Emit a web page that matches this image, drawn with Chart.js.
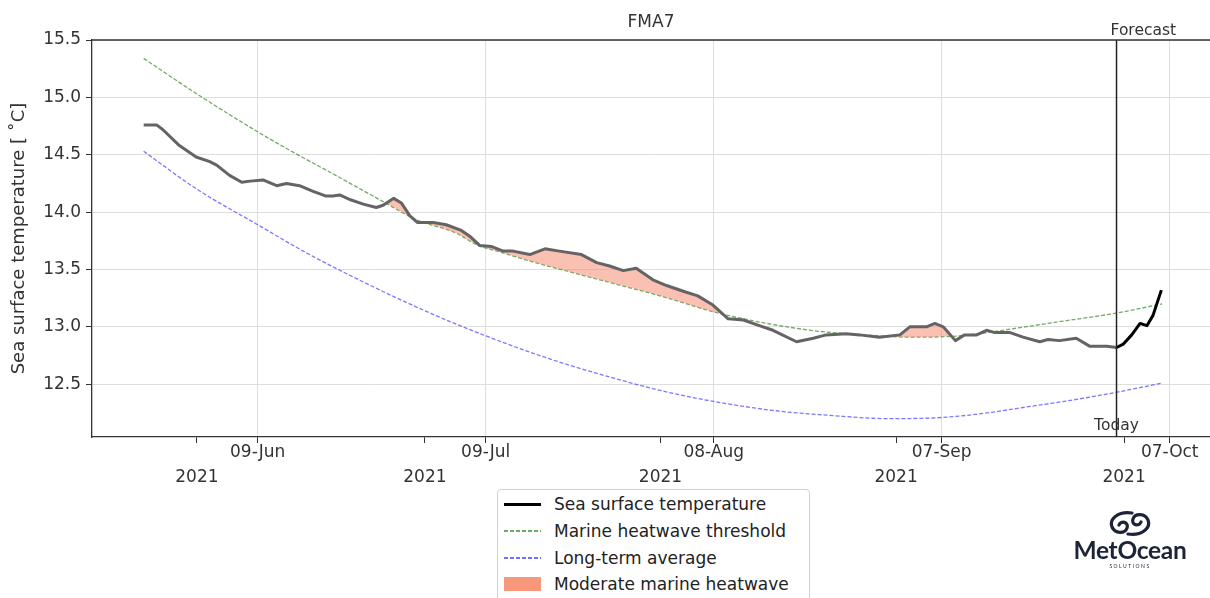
<!DOCTYPE html>
<html>
<head>
<meta charset="utf-8">
<script src="https://cdn.jsdelivr.net/npm/chart.js@4"></script>
<style>
  body { margin: 0; background: #fff; }
  #wrap { position: relative; width: 1210px; height: 598px; overflow: hidden; font-family: "DejaVu Sans", sans-serif; }
  #legend { position: absolute; left: 497px; top: 489px; width: 313px; height: 120px; border: 1px solid #d0d0d0; border-radius: 4px; background: #fff; box-sizing: border-box; }
  .row { position: absolute; left: 0; width: 100%; height: 0; }
  .swatch { position: absolute; left: 6px; width: 37px; }
  .txt { position: absolute; left: 56px; top: -11px; font-size: 17px; line-height: 22px; color: #222; white-space: nowrap; }
  #logo { position: absolute; left: 1060px; top: 505px; width: 140px; height: 70px; text-align: center; color: #1c2437; }
  #logo .name { position: absolute; left: 0; top: 31px; width: 140px; font-family: Lato, sans-serif; font-weight: 700; font-size: 24.5px; line-height: 28px; letter-spacing: -0.3px; }
  #logo .sub { position: absolute; left: 0; top: 58px; width: 140px; font-family: Lato, sans-serif; font-size: 5px; letter-spacing: 1.5px; }
</style>
</head>
<body>
<div id="wrap">
  <canvas id="myChart" width="1210" height="598"></canvas>
  <div id="legend"></div>
  <div id="logo">
    <svg style="position:absolute;left:47px;top:5px" width="46" height="27" viewBox="0 0 46 27">
      <g fill="none" stroke="#1c2437" stroke-width="3.2" stroke-linecap="round">
        <path d="M25 3 C11 1, 2 9, 5 17 C8 24, 18 24, 20 18 C22 12, 14 10, 12 15"/>
        <path d="M21 24 C35 26, 44 18, 41 10 C38 3, 28 3, 26 9 C24 15, 32 17, 34 12"/>
      </g>
    </svg>
    <div class="name">MetOcean</div>
    <div class="sub">SOLUTIONS</div>
  </div>
</div>
<script>
// days counted from 1 Jun 2021
const sstDays = [-7, -5.3, -4.5, -2.3, -0.1, 1.7, 2.6, 4.3, 5.9, 7, 8.7, 10.5, 11.8, 13.5, 15.3, 17, 17.9, 18.8, 20.1, 21.9, 23.6, 24.5, 25.9, 26.9, 28, 29, 31.1, 32.8, 34.8, 35.9, 37.2, 38.8, 40.3, 41.6, 43.8, 45.8, 47.7, 50.6, 52.6, 54.3, 56.1, 57.8, 60, 61.8, 64, 65.9, 67.9, 69.9, 71.9, 74, 75.8, 78.9, 81.1, 82.8, 85.4, 87.2, 89.8, 92.5, 93.8, 96, 97.1, 98.2, 99.8, 101, 102.6, 103.9, 105, 107, 108.7, 110.9, 112, 113.5, 115.7, 117.5, 119.7, 121];
const sstValues = [14.76, 14.76, 14.72, 14.58, 14.48, 14.44, 14.41, 14.32, 14.26, 14.27, 14.28, 14.23, 14.25, 14.23, 14.18, 14.14, 14.14, 14.15, 14.11, 14.07, 14.04, 14.06, 14.12, 14.08, 13.97, 13.91, 13.91, 13.89, 13.84, 13.79, 13.71, 13.70, 13.66, 13.66, 13.63, 13.68, 13.66, 13.63, 13.56, 13.53, 13.49, 13.51, 13.41, 13.36, 13.31, 13.27, 13.19, 13.07, 13.06, 13.01, 12.97, 12.87, 12.90, 12.93, 12.94, 12.93, 12.91, 12.93, 13.00, 13.00, 13.03, 13.00, 12.88, 12.93, 12.93, 12.97, 12.95, 12.95, 12.91, 12.87, 12.89, 12.88, 12.90, 12.83, 12.83, 12.82];

const forecastDays = [121, 121.9, 123, 124.1, 125, 125.8, 126.9];
const forecastValues = [12.82, 12.85, 12.93, 13.03, 13.01, 13.10, 13.32];

const thresholdDays = [-7, 0, 8, 13, 18, 24, 29, 34, 37, 40, 44, 53, 62, 68, 75, 82, 88, 94, 100, 104, 107, 114, 121, 127];
const thresholdValues = [15.34, 15.03, 14.70, 14.51, 14.33, 14.11, 13.93, 13.82, 13.71, 13.65, 13.57, 13.41, 13.25, 13.13, 13.03, 12.96, 12.93, 12.91, 12.92, 12.95, 12.98, 13.05, 13.12, 13.20];

const averageDays = [-7, 0, 8, 14, 18, 27, 35, 46, 55, 62, 68, 76, 83, 91, 98, 104, 108, 115, 121, 127];
const averageValues = [14.53, 14.20, 13.89, 13.66, 13.52, 13.23, 13.00, 12.73, 12.55, 12.43, 12.35, 12.27, 12.23, 12.20, 12.21, 12.25, 12.29, 12.36, 12.43, 12.51];

const yTicks = [12.5, 13.0, 13.5, 14.0, 14.5, 15.0, 15.5];
const majorTickDays = [8, 38, 68, 98, 128];
const majorTickLabels = ['09-Jun', '09-Jul', '08-Aug', '07-Sep', '07-Oct'];
const minorTickDays = [0, 30, 61, 92, 122];
const minorTickLabel = '2021';
const todayDay = 121;

const chartTitle = 'FMA7';
const yTitle = 'Sea surface temperature [ ˚C]';
const fillLabel = 'Moderate marine heatwave';

const toPoints = (xs, ys) => xs.map((x, i) => ({ x: x, y: ys[i] }));

const heatFill = 'rgba(245,130,100,0.5)';

const allTicks = majorTickDays.map(v => ({ value: v, major: true }))
    .concat(minorTickDays.map(v => ({ value: v, major: false })))
    .sort((a, b) => a.value - b.value);

function tickLabel(v) {
    const i = majorTickDays.indexOf(v);
    return i >= 0 ? majorTickLabels[i] : minorTickLabel;
}

// today line, frame top, annotations and title
const annotations = {
    id: 'annotations',
    afterDatasetsDraw(chart) {
        const { ctx, chartArea: a, scales: { x } } = chart;
        const tx = x.getPixelForValue(todayDay);
        ctx.save();
        ctx.strokeStyle = '#222';
        ctx.lineWidth = 1.5;
        ctx.beginPath();
        ctx.moveTo(tx, a.top);
        ctx.lineTo(tx, a.bottom);
        ctx.stroke();

        ctx.strokeStyle = '#333';
        ctx.lineWidth = 1.3;
        ctx.beginPath();
        ctx.moveTo(a.left, a.top);
        ctx.lineTo(a.right, a.top);
        ctx.stroke();

        ctx.fillStyle = '#333';
        ctx.font = '15.5px "DejaVu Sans"';
        ctx.textBaseline = 'alphabetic';
        ctx.textAlign = 'left';
        ctx.fillText('Forecast', tx - 6, a.top - 5);
        ctx.textAlign = 'center';
        ctx.fillText('Today', tx, a.bottom - 7);
        ctx.font = '17px "DejaVu Sans"';
        ctx.fillText(chartTitle, (a.left + a.right) / 2, 27);
        ctx.restore();
    }
};

Chart.defaults.font.family = '"DejaVu Sans", sans-serif';
Chart.defaults.color = '#333';

const ctx = document.getElementById('myChart').getContext('2d');
const myChart = new Chart(ctx, {
    type: 'line',
    data: {
        datasets: [{
            label: 'Sea surface temperature',
            data: toPoints(sstDays, sstValues),
            borderColor: 'rgb(100,100,100)',
            borderWidth: 3,
            pointRadius: 0,
            borderJoinStyle: 'round',
            fill: { target: 2, above: heatFill, below: 'rgba(0,0,0,0)' }
        }, {
            label: 'Forecast',
            data: toPoints(forecastDays, forecastValues),
            borderColor: '#000',
            borderWidth: 3,
            pointRadius: 0,
            borderJoinStyle: 'round',
            fill: false
        }, {
            label: 'Marine heatwave threshold',
            data: toPoints(thresholdDays, thresholdValues),
            borderColor: 'rgba(40,140,40,0.7)',
            borderWidth: 1.3,
            borderDash: [4, 2],
            pointRadius: 0,
            cubicInterpolationMode: 'monotone',
            fill: false
        }, {
            label: 'Long-term average',
            data: toPoints(averageDays, averageValues),
            borderColor: 'rgba(50,50,255,0.65)',
            borderWidth: 1.3,
            borderDash: [4, 2],
            pointRadius: 0,
            cubicInterpolationMode: 'monotone',
            fill: false
        }]
    },
    options: {
        responsive: false,
        animation: false,
        devicePixelRatio: 1,
        layout: { padding: { top: 40, left: 0, right: 0, bottom: 0 } },
        plugins: {
            legend: { display: false },
            title: { display: false },
            tooltip: { enabled: false }
        },
        scales: {
            x: {
                type: 'linear',
                min: -13.8,
                max: 133.3,
                afterBuildTicks: (scale) => { scale.ticks = allTicks.map(t => ({ ...t })); },
                afterFit: (scale) => { scale.height = 161; },
                ticks: {
                    autoSkip: false,
                    maxRotation: 0,
                    padding: 0,
                    color: '#333',
                    font: (c) => ({ size: 17, lineHeight: (c.tick && c.tick.major) ? '20px' : '70px' }),
                    callback: (v) => tickLabel(v)
                },
                grid: {
                    color: (c) => (c.tick && c.tick.major) ? '#dedede' : 'rgba(0,0,0,0)',
                    tickColor: '#333',
                    tickLength: 6
                },
                border: { color: '#333', width: 1.3 }
            },
            y: {
                type: 'linear',
                min: 12.04,
                max: 15.5,
                afterBuildTicks: (scale) => { scale.ticks = yTicks.map(v => ({ value: v })); },
                afterFit: (scale) => { scale.width = 92; },
                ticks: {
                    color: '#333',
                    font: { size: 17 },
                    padding: 5,
                    callback: (v) => Number(v).toFixed(1)
                },
                grid: { color: '#dedede', tickColor: '#333', tickLength: 6 },
                border: { color: '#333', width: 1.3 },
                title: {
                    display: true,
                    text: yTitle,
                    color: '#333',
                    font: { size: 18 },
                    padding: { top: 9, bottom: 0 }
                }
            }
        }
    },
    plugins: [annotations]
});

// legend built from the dataset labels
const legendEl = document.getElementById('legend');
const ds = myChart.data.datasets;
const legendItems = [
    { text: ds[0].label, style: 'top:-1.5px;height:3px;background:#000;' },
    { text: ds[2].label, style: 'top:-1px;height:2px;background:repeating-linear-gradient(90deg, rgba(40,140,40,0.7) 0 4px, transparent 4px 6px);' },
    { text: ds[3].label, style: 'top:-1px;height:2px;background:repeating-linear-gradient(90deg, rgba(50,50,255,0.7) 0 4px, transparent 4px 6px);' },
    { text: fillLabel, style: 'top:-7px;height:14px;background:rgb(247,152,122);' }
];
legendItems.forEach((item, i) => {
    const row = document.createElement('div');
    row.className = 'row';
    row.style.top = (14 + i * 26.8) + 'px';
    row.innerHTML = '<div class="swatch" style="' + item.style + '"></div><div class="txt"></div>';
    row.querySelector('.txt').textContent = item.text;
    legendEl.appendChild(row);
});
</script>
</body>
</html>
